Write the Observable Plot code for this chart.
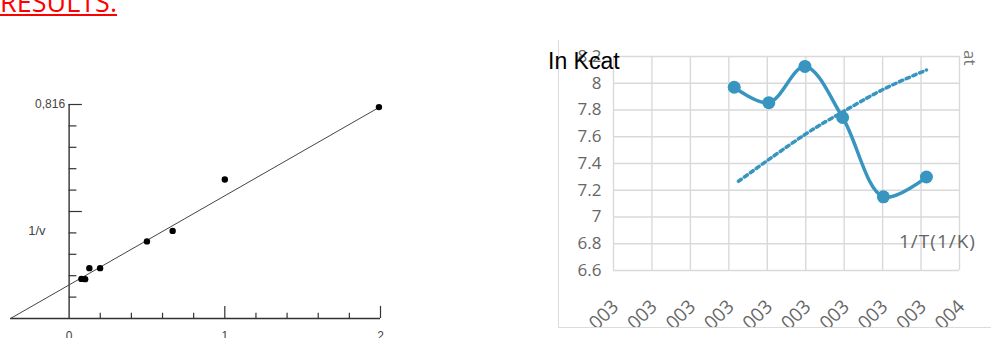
<!DOCTYPE html>
<html>
<head>
<meta charset="utf-8">
<script src="https://cdn.jsdelivr.net/npm/d3@7"></script>
<script src="https://cdn.jsdelivr.net/npm/@observablehq/plot@0.6"></script>
<style>
  html, body { margin: 0; padding: 0; background: #fff; }
  body { width: 991px; height: 338px; overflow: hidden; position: relative; font-family: "Liberation Sans", Arial, sans-serif; }
  .abs { position: absolute; white-space: nowrap; }
  #title { left: 0; top: -12px; color: #ff0000; font: 27px/27px "Open Sans", sans-serif; text-decoration: underline; text-decoration-thickness: 2px; text-underline-offset: 2px; }
  #left { left: 0; top: 0; }
  #rightWrap { left: 558px; top: 40px; width: 433px; height: 287px; border-left: 1px solid #dcdcdc; border-bottom: 1px solid #dcdcdc; overflow: hidden; }
  #ylabR { left: 548px; top: 46px; font: 23px/30px "Liberation Sans Narrow", "Arial Narrow", "Liberation Sans", sans-serif; color: #000; }
  #xlabR { left: 899px; top: 229px; font: 19px/24px "Open Sans", sans-serif; color: #666; letter-spacing: 1px; }
  #y2labR { top: 50px; font: 17px/20px "Open Sans", sans-serif; color: #777; transform: rotate(90deg); transform-origin: 0 0; left: 980px; }
</style>
</head>
<body>
<div id="title" class="abs">RESULTS.</div>
<div id="left" class="abs"></div>
<div id="rightWrap" class="abs"></div>
<div id="ylabR" class="abs">In Kcat</div>
<div id="xlabR" class="abs">1/T(1/K)</div>
<div id="y2labR" class="abs">at</div>
<script>
// ---------- Left chart: Lineweaver–Burk style plot ----------
const lbX = [0.079, 0.103, 0.130, 0.199, 0.500, 0.665, 1.000, 1.990];
const lbY = [0.151, 0.150, 0.192, 0.192, 0.294, 0.334, 0.530, 0.806];
const fitSlope = 0.340;
const fitIntercept = 0.128;
const lbYMax = 0.816;
const lbYTicks = [0.0816, 0.1632, 0.2448, 0.3264, 0.408, 0.4896, 0.5712, 0.6528, 0.7344, 0.816];
const lbYMajor = [0.408, 0.816];
const lbYTopLabel = "0,816";
const lbYLabel = "1/v";
const lbXTicks = [0.2, 0.4, 0.6, 0.8, 1, 1.2, 1.4, 1.6, 1.8, 2];
const lbXMajor = [1, 2];
const lbXLabels = [0, 1, 2];

// ---------- Right chart: ln Kcat vs 1/T ----------
const invT   = [0.003207, 0.003252, 0.003299, 0.003348, 0.003401, 0.003457];
const lnKcat = [7.970, 7.855, 8.126, 7.744, 7.151, 7.299];
const trendX = [0.0032125, 0.003298, 0.003348, 0.003398, 0.003457];
const trendY = [7.267, 7.613, 7.785, 7.946, 8.099];
const rXTicks = [0.00305, 0.0031, 0.00315, 0.0032, 0.00325, 0.0033, 0.00335, 0.0034, 0.00345, 0.0035];
const rXTickLabels = ["0.003", "0.003", "0.003", "0.003", "0.003", "0.003", "0.003", "0.003", "0.003", "0.004"];
const rYTicks = [6.6, 6.8, 7, 7.2, 7.4, 7.6, 7.8, 8, 8.2];

// ----- build left -----
const xStart = -fitIntercept / fitSlope;
const xEnd = lbXMajor[lbXMajor.length - 1];
const pts = lbX.map((x, i) => ({x, y: lbY[i]}));
const fitLine = [xStart, xEnd].map(x => ({x, y: fitIntercept + fitSlope * x}));

const leftPlot = Plot.plot({
  width: 450, height: 338,
  marginLeft: 10, marginRight: 70, marginTop: 104, marginBottom: 20,
  x: {domain: [xStart, xEnd], label: null},
  y: {domain: [0, lbYMax], axis: null, label: null},
  style: {fontFamily: "'Liberation Sans', Arial, sans-serif", color: "#333", background: "transparent"},
  marks: [
    Plot.ruleY([0], {x1: xStart, x2: xEnd, stroke: "#333", strokeWidth: 1.4}),
    Plot.ruleX([0], {y1: 0, y2: lbYMax, stroke: "#333", strokeWidth: 1.4}),
    Plot.ruleY(lbYTicks, {x1: 0, x2: d => lbYMajor.includes(d) ? 0.085 : 0.05, stroke: "#333", strokeWidth: 1.2}),
    Plot.ruleX(lbXTicks, {y1: 0, y2: d => lbXMajor.includes(d) ? 0.046 : 0.02, stroke: "#333", strokeWidth: 1.2}),
    Plot.line(fitLine, {x: "x", y: "y", stroke: "#444", strokeWidth: 1}),
    Plot.dot(pts, {x: "x", y: "y", r: 3.2, fill: "#000"}),
    Plot.text([lbYTopLabel], {x: 0, y: lbYMax, text: d => d, dx: -4, textAnchor: "end", fontSize: 12, fill: "#444"}),
    Plot.text([lbYLabel], {x: xStart * 0.55, y: lbYMax * 0.41, text: d => d, fontSize: 13, fill: "#444"}),
    Plot.axisX({ticks: lbXLabels, tickSize: 0, tickPadding: 13, fontSize: 12, tickFormat: d => String(d), color: "#444", label: null})
  ]
});
document.getElementById("left").appendChild(leftPlot);

// ----- build right -----
const blue = "#3795c0";
const series = invT.map((x, i) => ({x, y: lnKcat[i]}));
const trend = trendX.map((x, i) => ({x, y: trendY[i]}));
const rightPlot = Plot.plot({
  width: 433, height: 287,
  marginLeft: 54, marginRight: 33, marginTop: 16, marginBottom: 57,
  x: {domain: [rXTicks[0], rXTicks[rXTicks.length - 1]], label: null},
  y: {domain: [rYTicks[0], rYTicks[rYTicks.length - 1]], label: null},
  style: {fontFamily: "'Open Sans', sans-serif", color: "#666", background: "transparent", overflow: "visible"},
  marks: [
    Plot.gridX({ticks: rXTicks, stroke: "#d9d9d9", strokeOpacity: 1, strokeWidth: 1.4}),
    Plot.gridY({ticks: rYTicks, stroke: "#d9d9d9", strokeOpacity: 1, strokeWidth: 1.4}),
    Plot.axisY({ticks: rYTicks, tickSize: 0, tickPadding: 12, fontSize: 17, tickFormat: d => String(d), label: null}),
    Plot.axisX({ticks: rXTicks, tickSize: 0, tickPadding: 33, dx: 2, tickRotate: -45, fontSize: 19, label: null,
      tickFormat: d => rXTickLabels[rXTicks.indexOf(d)]}),
    Plot.line(trend, {x: "x", y: "y", curve: "natural", stroke: blue, strokeWidth: 3.5, strokeDasharray: "3.5,3.8"}),
    Plot.line(series, {x: "x", y: "y", curve: "catmull-rom", stroke: blue, strokeWidth: 3.5}),
    Plot.dot(series, {x: "x", y: "y", r: 6.5, fill: blue})
  ]
});
document.getElementById("rightWrap").appendChild(rightPlot);
</script>
</body>
</html>
